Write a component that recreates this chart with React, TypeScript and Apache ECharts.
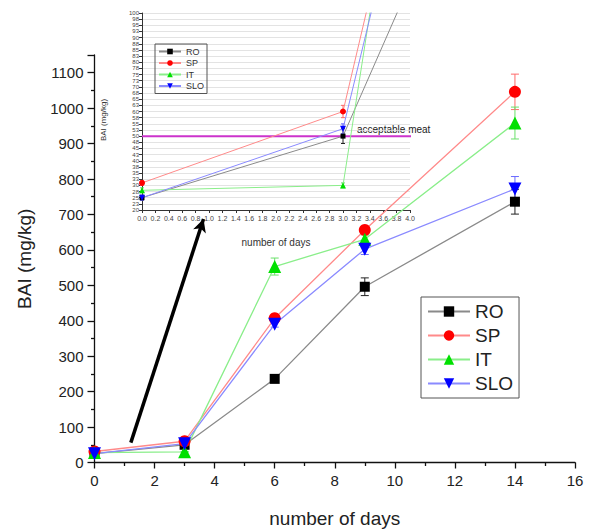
import React, { useEffect, useRef } from 'react';
import * as echarts from 'echarts';

const days = [0, 3, 6, 9, 14];
const seriesNames = ['RO', 'SP', 'IT', 'SLO'];
const RO = [25, 50, 236, 496, 736];
const SP = [31, 60, 407, 656, 1046];
const IT = [28, 30, 553, 630, 958];
const SLO = [25, 53, 390, 602, 772];
const RO_ERR = [1, 3, 6, 25, 35];
const SP_ERR = [1, 2.5, 8, 10, 50];
const IT_ERR = [1, 1, 24, 12, 45];
const SLO_ERR = [1, 2, 8, 15, 35];
const ACCEPTABLE = 50;
const ACCEPTABLE_LABEL = 'acceptable meat';
const ARROW_FROM = [1.21, 56];
const ARROW_TO = [3.63, 687];

const values = [RO, SP, IT, SLO];
const errors = [RO_ERR, SP_ERR, IT_ERR, SLO_ERR];

const FONT = '"Liberation Sans", Arial, sans-serif';
const markerColors = ['#000000', '#ff0000', '#00e000', '#0000ff'];
const lineColors = ['#8a8a8a', '#ff8a8a', '#8aee8a', '#8a8aff'];
const errColors = ['#222222', '#ff6a6a', '#6ae06a', '#6a6aff'];
const symbols = ['rect', 'circle', 'triangle', 'triangle'];
const rotates = [0, 0, 0, 180];
const mainSizes = [10, 12, 13, 13];
const insetSizes = [5, 6, 6, 6];

function errSeries(axisIdx: number, maxX: number, cap: number) {
  const data: number[][] = [];
  values.forEach((vals, k) => {
    days.forEach((d, i) => {
      if (d <= maxX) data.push([d, vals[i] - errors[k][i], vals[i] + errors[k][i], k]);
    });
  });
  return {
    type: 'custom',
    xAxisIndex: axisIdx,
    yAxisIndex: axisIdx,
    z: 1,
    silent: true,
    encode: { x: 0, y: [1, 2] },
    data,
    renderItem: (params: any, api: any) => {
      const x = api.value(0);
      const lo = api.value(1);
      const hi = api.value(2);
      const k = api.value(3);
      const p1 = api.coord([x, hi]);
      const p2 = api.coord([x, lo]);
      const style = { stroke: errColors[k], lineWidth: 1 };
      return {
        type: 'group',
        children: [
          { type: 'line', shape: { x1: p1[0], y1: p1[1], x2: p2[0], y2: p2[1] }, style },
          { type: 'line', shape: { x1: p1[0] - cap, y1: p1[1], x2: p1[0] + cap, y2: p1[1] }, style },
          { type: 'line', shape: { x1: p2[0] - cap, y1: p2[1], x2: p2[0] + cap, y2: p2[1] }, style },
        ],
      };
    },
  };
}

export default function App() {
  const ref = useRef<HTMLDivElement>(null);
  useEffect(() => {
    if (!ref.current) return;
    const chart = echarts.init(ref.current, null, { renderer: 'svg' });

    const mainSeries = seriesNames.map((name, k) => ({
      type: 'line',
      name,
      xAxisIndex: 0,
      yAxisIndex: 0,
      z: 3,
      data: days.map((d, i) => [d, values[k][i]]),
      symbol: symbols[k],
      symbolRotate: rotates[k],
      symbolSize: mainSizes[k],
      itemStyle: { color: markerColors[k] },
      lineStyle: { color: lineColors[k], width: 1.3 },
      ...(k === 0
        ? {
            markLine: {
              silent: true,
              symbol: ['none', 'arrow'],
              symbolSize: [10, 13],
              label: { show: false },
              lineStyle: { color: '#000', width: 3.5, type: 'solid' },
              data: [[{ coord: ARROW_FROM }, { coord: ARROW_TO }]],
            },
          }
        : {}),
    }));

    const insetSeries = seriesNames.map((name, k) => ({
      type: 'line',
      name,
      xAxisIndex: 1,
      yAxisIndex: 1,
      z: 3,
      data: days.map((d, i) => [d, values[k][i]]),
      symbol: symbols[k],
      symbolRotate: rotates[k],
      symbolSize: insetSizes[k],
      itemStyle: { color: markerColors[k] },
      lineStyle: { color: lineColors[k], width: 1 },
    }));

    const option: any = {
      animation: false,
      backgroundColor: '#ffffff',
      textStyle: { fontFamily: FONT },
      grid: [
        { left: 94.5, right: 14, top: 55, bottom: 67.5, outerBoundsMode: 'none', containLabel: false },
        { left: 142, right: 179, top: 13, bottom: 320, outerBoundsMode: 'none', containLabel: false },
      ],
      xAxis: [
        {
          type: 'value',
          gridIndex: 0,
          min: 0,
          max: 16,
          interval: 2,
          name: 'number of days',
          nameLocation: 'middle',
          nameGap: 46,
          nameTextStyle: { fontSize: 19, color: '#222', fontFamily: FONT },
          axisLine: { show: true, onZero: false, lineStyle: { color: '#111', width: 1.3 } },
          axisTick: { show: true, length: 6, lineStyle: { color: '#111', width: 1.3 } },
          minorTick: { show: true, splitNumber: 2, length: 3.5, lineStyle: { color: '#111', width: 1.3 } },
          axisLabel: { fontSize: 15, color: '#222', margin: 10, fontFamily: FONT },
          splitLine: { show: false },
        },
        {
          type: 'value',
          gridIndex: 1,
          min: 0,
          max: 4,
          interval: 0.2,
          name: 'number of days',
          nameLocation: 'middle',
          nameGap: 27,
          nameTextStyle: { fontSize: 10, color: '#333', fontFamily: FONT },
          axisLine: { show: true, onZero: false, lineStyle: { color: '#333', width: 1 } },
          axisTick: { show: true, length: 3, lineStyle: { color: '#333' } },
          axisLabel: {
            fontSize: 7,
            color: '#444',
            margin: 5,
            fontFamily: FONT,
            formatter: (v: number) => v.toFixed(1),
          },
          splitLine: { show: false },
        },
      ],
      yAxis: [
        {
          type: 'value',
          gridIndex: 0,
          min: 0,
          max: 1150,
          interval: 100,
          name: 'BAI (mg/kg)',
          nameLocation: 'middle',
          nameGap: 61,
          nameTextStyle: { fontSize: 19, color: '#222', fontFamily: FONT },
          axisLine: { show: true, onZero: false, lineStyle: { color: '#111', width: 1.3 } },
          axisTick: { show: true, length: 7, lineStyle: { color: '#111', width: 1.3 } },
          minorTick: { show: true, splitNumber: 2, length: 3.5, lineStyle: { color: '#111', width: 1.3 } },
          axisLabel: {
            fontSize: 15,
            color: '#222',
            margin: 11,
            fontFamily: FONT,
            formatter: (v: number) => (v % 100 === 0 ? String(v) : ''),
          },
          splitLine: { show: false },
        },
        {
          type: 'value',
          gridIndex: 1,
          min: 20,
          max: 100,
          interval: 2.5,
          axisLine: { show: true, onZero: false, lineStyle: { color: '#333', width: 1 } },
          axisTick: { show: true, length: 3, lineStyle: { color: '#333' } },
          axisLabel: {
            fontSize: 6,
            color: '#444',
            margin: 3,
            fontFamily: FONT,
            formatter: (v: number) => String(Math.round(v)),
          },
          splitLine: { show: true, lineStyle: { color: '#dcdcdc', width: 0.8 } },
        },
      ],
      legend: [
        {
          data: seriesNames,
          orient: 'vertical',
          left: 421,
          top: 297,
          padding: [5, 6, 5, 6],
          itemWidth: 42,
          itemHeight: 13,
          itemGap: 5,
          borderColor: '#555',
          borderWidth: 1,
          selectedMode: false,
          textStyle: { fontSize: 19, color: '#222', fontFamily: FONT },
        },
        {
          data: seriesNames,
          orient: 'vertical',
          left: 155,
          top: 44,
          padding: [3, 3, 3, 3],
          itemWidth: 22,
          itemHeight: 7,
          itemGap: 2.5,
          borderColor: '#555',
          borderWidth: 1,
          selectedMode: false,
          textStyle: { fontSize: 9, color: '#333', fontFamily: FONT },
        },
      ],
      graphic: [
        {
          type: 'text',
          x: 103,
          y: 120,
          rotation: Math.PI / 2,
          style: {
            text: 'BAI (mg/kg)',
            fontSize: 8,
            fontFamily: FONT,
            fill: '#333',
            textAlign: 'center',
            textVerticalAlign: 'middle',
          },
        },
        {
          type: 'text',
          x: 357,
          y: 129,
          style: {
            text: ACCEPTABLE_LABEL,
            fontSize: 10,
            fontFamily: FONT,
            fill: '#222',
            textAlign: 'left',
            textVerticalAlign: 'middle',
          },
        },
      ],
      series: [
        errSeries(0, 16, 4),
        errSeries(1, 4, 2),
        ...mainSeries,
        ...insetSeries,
        {
          type: 'line',
          name: 'acceptable',
          xAxisIndex: 1,
          yAxisIndex: 1,
          clip: false,
          z: 2,
          symbol: 'none',
          silent: true,
          data: [
            [0, ACCEPTABLE],
            [4.3, ACCEPTABLE],
          ],
          lineStyle: { color: '#cc33cc', width: 2 },
        },
      ],
    };
    chart.setOption(option);
    return () => chart.dispose();
  }, []);
  return (
    <div
      ref={ref}
      style={{ position: 'fixed', left: 0, top: 0, width: 589, height: 530, background: '#fff' }}
    />
  );
}
